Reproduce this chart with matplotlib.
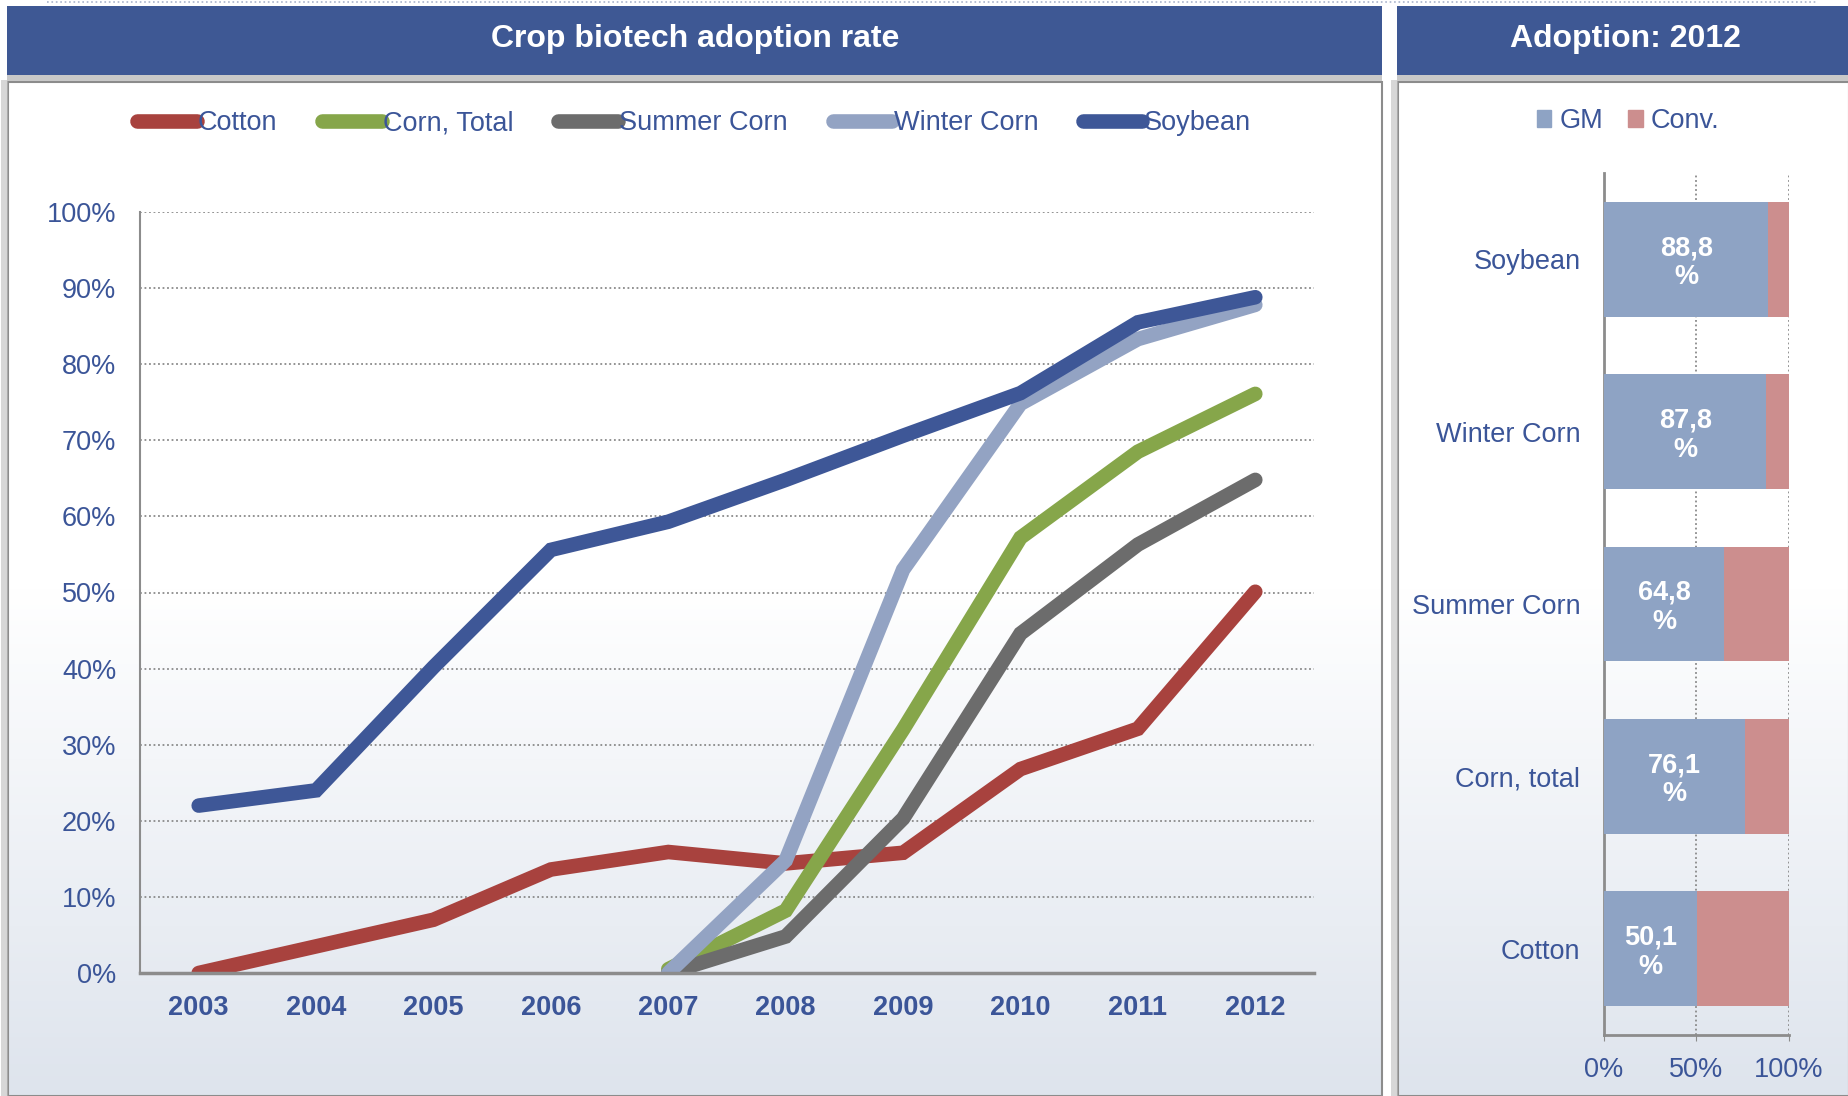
import matplotlib.pyplot as plt
import numpy as np
from matplotlib.patches import Rectangle, Patch
from matplotlib.lines import Line2D
from matplotlib.colors import LinearSegmentedColormap

plt.rcParams['font.family'] = ['Liberation Sans', 'DejaVu Sans']

W, H = 1849, 1096

# adoption rate by year (%)
years = [2003, 2004, 2005, 2006, 2007, 2008, 2009, 2010, 2011, 2012]
cotton = [0.0, 3.5, 7.0, 13.6, 15.9, 14.4, 15.8, 26.8, 32.1, 50.1]
corn_total = [None, None, None, None, 0.5, 8.2, 32.0, 57.2, 68.5, 76.1]
summer_corn = [None, None, None, None, 0.0, 4.8, 20.3, 44.6, 56.3, 64.8]
winter_corn = [None, None, None, None, 0.0, 14.8, 53.0, 74.8, 83.3, 87.8]
soybean = [22.0, 24.0, 40.2, 55.6, 59.3, 64.8, 70.6, 76.2, 85.5, 88.8]

# 2012 split between GM and conventional
crops_2012 = ['Cotton', 'Corn, total', 'Summer Corn', 'Winter Corn', 'Soybean']
gm_2012 = [50.1, 76.1, 64.8, 87.8, 88.8]

blue_txt = '#3B5598'
header_col = '#3E5894'
lw = 10.5


def px_box(x0, y0, x1, y1):
    # pixel box (top-left origin) -> figure fraction rect
    return [x0 / W, 1 - y1 / H, (x1 - x0) / W, (y1 - y0) / H]


fig = plt.figure(figsize=(W / 100, H / 100), dpi=100)
fig.patch.set_facecolor('white')

# panel backgrounds with soft vertical gradient
grad = LinearSegmentedColormap.from_list('g', ['#FFFFFF', '#FFFFFF', '#DEE4ED'])
for (x0, x1) in [(8, 1382), (1398, 1849)]:
    bg = fig.add_axes(px_box(x0, 82, x1, H), zorder=0)
    bg.imshow(np.linspace(0, 1, 256).reshape(-1, 1), aspect='auto', cmap=grad,
              extent=[0, 1, 0, 1], origin='upper')
    bg.set_axis_off()
    # thin gray frame and drop shadow
    fig.patches.append(Rectangle((x0 / W, 0), (x1 - x0) / W, 1 - 82 / H,
                                 transform=fig.transFigure, fill=False,
                                 edgecolor='#8C8C8C', linewidth=1.5, zorder=1))
    fig.patches.append(Rectangle(((x0 - 7) / W, 0), 7 / W, 1 - 80 / H,
                                 transform=fig.transFigure, facecolor='#BDBDBD',
                                 edgecolor='none', alpha=0.6, zorder=1))
    # header bar
    fig.patches.append(Rectangle(((x0 - 1) / W, 1 - 75 / H), (x1 - x0 + 1) / W, 69 / H,
                                 transform=fig.transFigure, facecolor=header_col,
                                 edgecolor='none', zorder=2))
    fig.patches.append(Rectangle(((x0 - 1) / W, 1 - 81 / H), (x1 - x0 + 1) / W, 6 / H,
                                 transform=fig.transFigure, facecolor='#C8C8C8',
                                 edgecolor='none', zorder=2))

fig.add_artist(Line2D([47 / W, 1816 / W], [1 - 2 / H, 1 - 2 / H], color='#A9B4CC',
                      linewidth=1.2, linestyle=':', transform=fig.transFigure))

fig.text(695 / W, 1 - 39.5 / H, 'Crop biotech adoption rate', color='white',
         fontsize=23, fontweight='bold', ha='center', va='center', zorder=5)
fig.text(1625 / W, 1 - 39.5 / H, 'Adoption: 2012', color='white',
         fontsize=23, fontweight='bold', ha='center', va='center', zorder=5)

# ---- line chart ----
ax = fig.add_axes(px_box(140, 212, 1314, 973), zorder=3)
ax.patch.set_alpha(0)
series = [
    ('Cotton', cotton, '#A8423E'),
    ('Corn, Total', corn_total, '#86A64A'),
    ('Summer Corn', summer_corn, '#6C6C6C'),
    ('Winter Corn', winter_corn, '#93A3C3'),
    ('Soybean', soybean, '#3E5797'),
]
for name, vals, col in series:
    v = np.array([np.nan if x is None else x for x in vals], dtype=float)
    ax.plot(years, v, color=col, linewidth=lw, label=name,
            solid_capstyle='round', solid_joinstyle='miter', clip_on=True)

ax.set_xlim(2002.5, 2012.5)
ax.set_ylim(0, 100)
ax.set_xticks(years)
ax.set_xticklabels([str(y) for y in years], fontweight='bold')
ax.set_yticks(range(0, 101, 10))
ax.set_yticklabels([f'{v}%' for v in range(0, 101, 10)])
ax.tick_params(axis='both', length=0, labelsize=19.5, labelcolor=blue_txt)
ax.tick_params(axis='y', pad=17)
ax.tick_params(axis='x', pad=16)
ax.grid(axis='y', linestyle=(0, (1, 1.5)), color='#8A8A8A', linewidth=1.3)
ax.set_axisbelow(True)
for s in ['top', 'right']:
    ax.spines[s].set_visible(False)
ax.spines['left'].set_color('#8C8C8C')
ax.spines['left'].set_linewidth(1.5)
ax.spines['bottom'].set_color('#8C8C8C')
ax.spines['bottom'].set_linewidth(2.5)

handles = [Line2D([], [], color=c, linewidth=lw, solid_capstyle='round') for _, _, c in series]
fig.legend(handles, [n for n, _, _ in series], loc='center', ncol=5,
           bbox_to_anchor=(694 / W, 1 - 123.5 / H), frameon=False, fontsize=19.5,
           labelcolor=blue_txt, handlelength=2.2, handletextpad=0.05,
           columnspacing=1.65)

# ---- stacked bars for 2012 ----
bx = fig.add_axes(px_box(1604, 173, 1789, 1035), zorder=3)
bx.patch.set_alpha(0)
pos = np.arange(len(crops_2012))
conv_2012 = [100 - g for g in gm_2012]
bx.barh(pos, gm_2012, height=0.667, color='#8EA3C4', label='GM', zorder=3)
bx.barh(pos, conv_2012, left=gm_2012, height=0.667, color='#CC8E8E',
        label='Conv.', zorder=3)
for p, g in zip(pos, gm_2012):
    bx.text(g / 2, p - 0.02, f'{g:.1f}'.replace('.', ',') + '\n%', color='white',
            fontsize=19.5, fontweight='bold', ha='center', va='center',
            linespacing=1.15, zorder=4)
bx.set_xlim(0, 100)
bx.set_ylim(-0.5, 4.5)
bx.set_yticks(pos)
bx.set_yticklabels(crops_2012)
bx.set_xticks([0, 50, 100])
bx.set_xticklabels(['0%', '50%', '100%'])
bx.tick_params(axis='y', length=0, pad=17, labelsize=19.5, labelcolor=blue_txt)
bx.tick_params(axis='x', length=4, color='#8C8C8C', pad=12, labelsize=19.5,
               labelcolor=blue_txt)
bx.grid(axis='x', linestyle=(0, (1, 1.5)), color='#8A8A8A', linewidth=1.3)
bx.set_axisbelow(True)
for s in ['top', 'right']:
    bx.spines[s].set_visible(False)
for s in ['left', 'bottom']:
    bx.spines[s].set_color('#8C8C8C')
    bx.spines[s].set_linewidth(2)

fig.legend([Patch(color='#8EA3C4'), Patch(color='#CC8E8E')], ['GM', 'Conv.'],
           loc='center', ncol=2, bbox_to_anchor=(1628 / W, 1 - 121 / H),
           frameon=False, fontsize=19.5, labelcolor=blue_txt,
           handlelength=0.55, handleheight=0.6, handletextpad=0.3,
           columnspacing=0.9)

fig.savefig('out.png', dpi=100)
